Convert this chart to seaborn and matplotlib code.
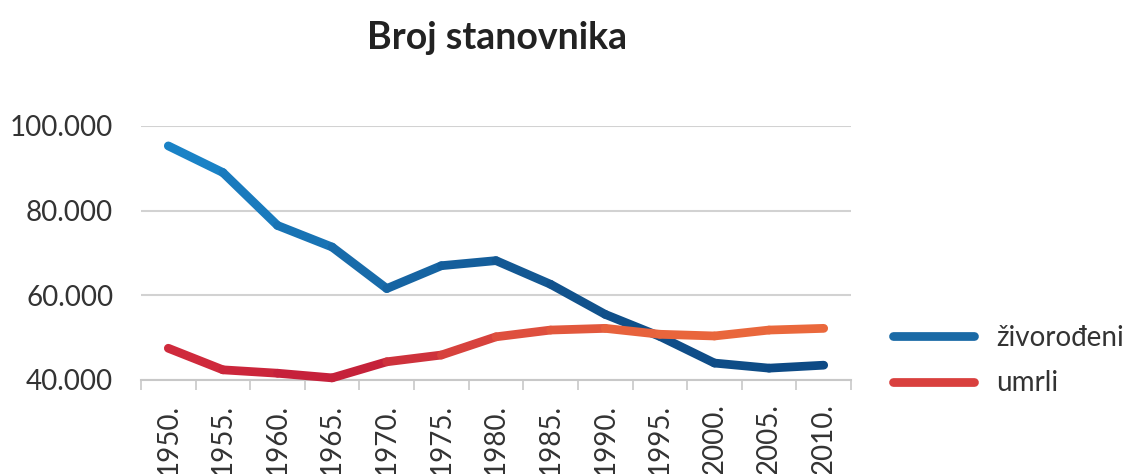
import numpy as np
import pandas as pd
import seaborn as sns
import matplotlib
matplotlib.use("Agg")
import matplotlib.pyplot as plt
from matplotlib.collections import LineCollection
from matplotlib.colors import LinearSegmentedColormap
from matplotlib.lines import Line2D
from matplotlib.ticker import FixedLocator, FuncFormatter

# ---- data ----
years = ["1950.", "1955.", "1960.", "1965.", "1970.", "1975.", "1980.",
         "1985.", "1990.", "1995.", "2000.", "2005.", "2010."]
zivorodeni = [95300, 89000, 76500, 71400, 61600, 67000, 68200,
              62600, 55500, 50300, 44000, 42800, 43500]
umrli = [47500, 42400, 41600, 40500, 44300, 45900, 50200,
         51800, 52200, 50800, 50400, 51800, 52200]
series_names = ["živorođeni", "umrli"]
title = "Broj stanovnika"
y_ticks = [40000, 60000, 80000, 100000]

df = pd.DataFrame({
    "godina": years * 2,
    "broj": zivorodeni + umrli,
    "serija": [series_names[0]] * len(years) + [series_names[1]] * len(years),
})

# ---- style ----
sns.set_theme(style="white")
plt.rcParams["font.family"] = ["Lato", "DejaVu Sans"]

legend_colors = {series_names[0]: "#1a6aa6", series_names[1]: "#d9403e"}
gradients = {
    series_names[0]: LinearSegmentedColormap.from_list("b", ["#1a82c6", "#1766a4", "#10508a", "#0d4a85"]),
    series_names[1]: LinearSegmentedColormap.from_list("r", ["#cf2a3c", "#c31e3a", "#dc4a3e", "#e8643c", "#ea683c"]),
}
lw = 6.3

fig = plt.figure(figsize=(11.42, 4.74), dpi=100)
fig.patch.set_facecolor("white")
ax = fig.add_axes([141 / 1142, 1 - 380 / 474, (851 - 141) / 1142, (380 - 126) / 474])

sns.lineplot(data=df, x="godina", y="broj", hue="serija", palette=legend_colors,
             linewidth=lw, sort=False, legend=False, ax=ax)

# replace each seaborn line by a colour-graded copy of its own path
for line, name in zip(ax.lines, series_names):
    xy = line.get_xydata()
    segs = np.stack([xy[:-1], xy[1:]], axis=1)
    t = np.linspace(0, 1, len(segs))
    lc = LineCollection(segs, colors=gradients[name](t), linewidths=lw,
                        capstyle="round", joinstyle="round", zorder=3)
    lc.set_clip_on(False)
    ax.add_collection(lc)
    line.set_visible(False)

ax.set_xlim(-0.5, len(years) - 0.5)
ax.set_ylim(y_ticks[0], y_ticks[-1])
ax.set_xlabel("")
ax.set_ylabel("")

ax.set_yticks(y_ticks)
ax.yaxis.set_major_formatter(FuncFormatter(lambda v, p: f"{v / 1000:.3f}"))
ax.yaxis.grid(True, color="#d2d2d2", linewidth=1.5)
ax.set_axisbelow(True)

ax.xaxis.set_minor_locator(FixedLocator(np.arange(-0.5, len(years), 1.0)))
ax.tick_params(axis="x", which="major", length=0, pad=17, labelsize=20,
               labelcolor="#333333", labelrotation=90)
ax.tick_params(axis="x", which="minor", bottom=True, length=7, width=1.2,
               color="#c8c8c8", direction="out")
ax.tick_params(axis="y", length=0, pad=20, labelsize=20, labelcolor="#333333")
for lab in ax.get_xticklabels():
    lab.set_va("top")
    lab.set_ha("center")

for s in ["left", "top", "right"]:
    ax.spines[s].set_visible(False)
ax.spines["bottom"].set_color("#c8c8c8")
ax.spines["bottom"].set_linewidth(1.5)

fig.text(497 / 1142, 1 - 38 / 474, title, ha="center", va="center",
         fontsize=27, fontweight="bold", color="#222222")

handles = [Line2D([], [], color=legend_colors[n], lw=lw, solid_capstyle="round")
           for n in series_names]
fig.legend(handles, series_names, loc="upper left",
           bbox_to_anchor=(893 / 1142, 1 - 325 / 474), frameon=False,
           fontsize=20, handlelength=2.9, handletextpad=0.8,
           labelspacing=0.7, borderpad=0, borderaxespad=0,
           labelcolor="#333333")

fig.savefig("out.png", dpi=100, facecolor="white")
